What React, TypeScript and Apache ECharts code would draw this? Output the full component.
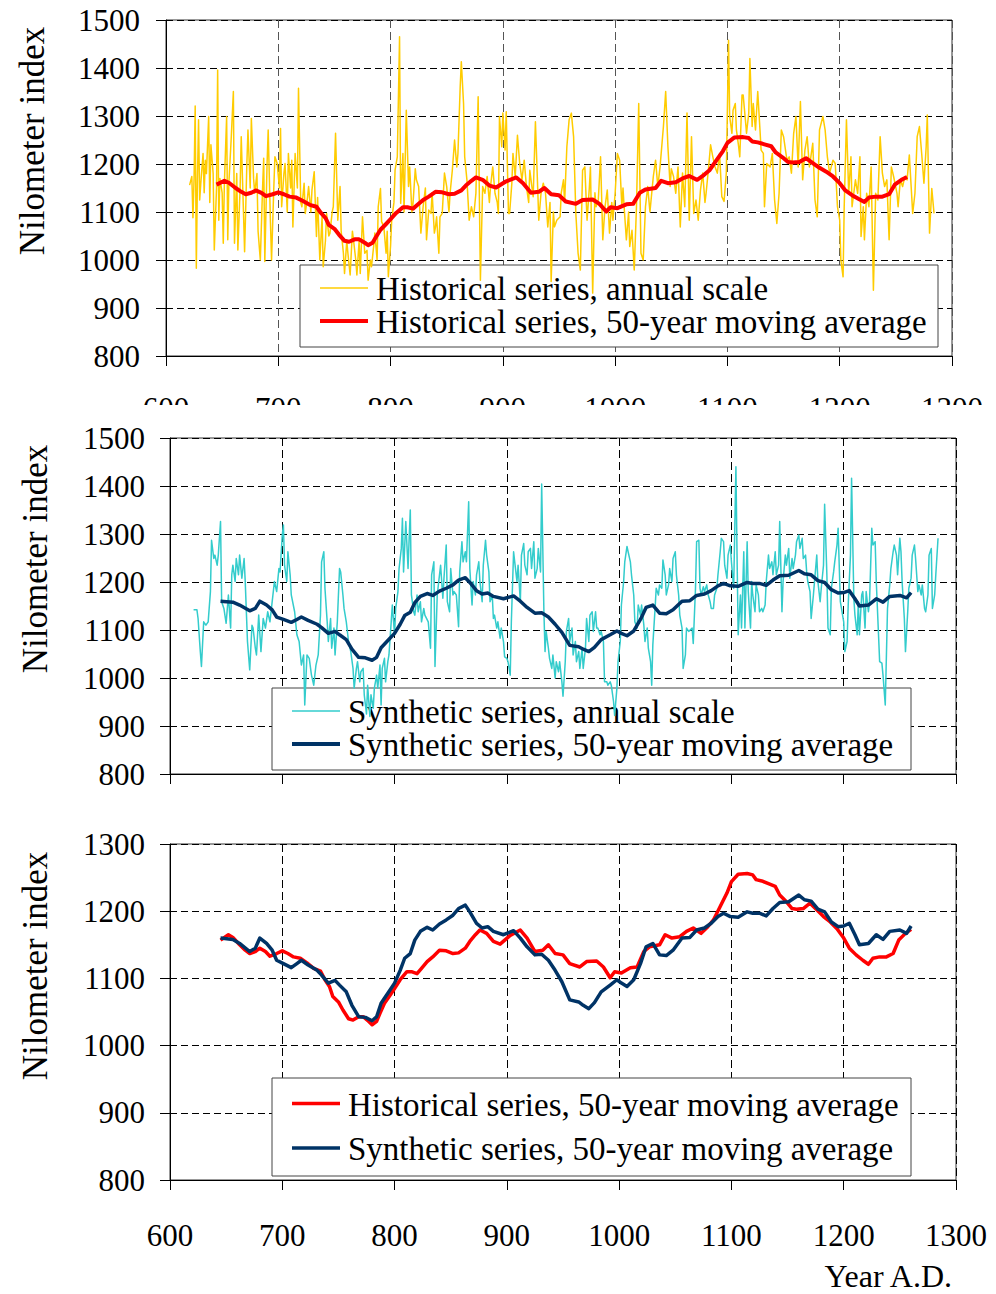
import React, { useEffect, useRef } from "react";
import * as echarts from "echarts";

// Roda nilometer index, historical record and synthetic reconstruction.
// Annual values are [year, index] pairs; moving averages are 50-year windows.

const historicalAnnual: [number, number][] = [
  [621, 1156], [623, 1174], [624, 1088], [625, 1170], [626, 1321], [627, 983], [628, 1170], [629, 1292],
  [630, 1125], [631, 1160], [633, 1222], [634, 1140], [635, 1208], [636, 1180], [638, 1299], [639, 1120],
  [640, 1240], [642, 1180], [643, 1021], [645, 1150], [646, 1396], [647, 1083], [648, 1170], [650, 1140],
  [651, 1035], [652, 1160], [654, 1299], [655, 1042], [656, 1160], [658, 1250], [660, 1351], [661, 1035],
  [663, 1180], [664, 1021], [666, 1150], [667, 1257], [669, 1100], [670, 1017], [672, 1200], [673, 1271],
  [675, 1150], [676, 1295], [678, 1170], [679, 1139], [681, 1180], [682, 1060], [684, 1000], [686, 1150],
  [687, 1212], [688, 997], [690, 1200], [691, 1271], [693, 1080], [694, 1000], [696, 1150], [697, 1215],
  [699, 1201], [701, 1150], [702, 1274], [703, 1111], [705, 1180], [706, 1201], [708, 1100], [709, 1222],
  [711, 1150], [712, 1208], [713, 1069], [715, 1222], [717, 1150], [718, 1358], [720, 1120], [721, 1111],
  [723, 1160], [724, 1097], [726, 1130], [727, 1153], [729, 1100], [730, 1146], [732, 1184], [734, 1049],
  [735, 1130], [737, 1000], [739, 1090], [740, 986], [742, 1040], [743, 1097], [745, 1050], [746, 1056],
  [748, 1100], [749, 1111], [751, 1264], [753, 1083], [755, 1153], [756, 1060], [758, 1014], [759, 972],
  [761, 1040], [762, 1014], [764, 969], [766, 1060], [767, 1042], [769, 1000], [770, 969], [772, 1040],
  [773, 972], [775, 1090], [777, 1014], [779, 1020], [780, 958], [782, 1000], [783, 986], [785, 1030],
  [786, 1056], [788, 1000], [789, 1111], [791, 1149], [792, 1080], [794, 1069], [796, 1014], [797, 1060],
  [798, 965], [800, 1030], [801, 1083], [803, 1120], [804, 1187], [806, 1215], [808, 1465], [809, 1118],
  [811, 1222], [812, 1100], [814, 1312], [816, 1153], [817, 1194], [819, 1100], [820, 1118], [822, 1190],
  [823, 1167], [825, 1153], [827, 1056], [829, 1111], [831, 1150], [832, 1042], [834, 1104], [836, 1097],
  [837, 1140], [839, 1056], [840, 1069], [841, 1090], [843, 1014], [844, 1090], [846, 1097], [848, 1181],
  [850, 1153], [852, 1100], [853, 1139], [855, 1187], [857, 1250], [859, 1194], [860, 1222], [862, 1361],
  [863, 1413], [865, 1326], [866, 1215], [868, 1167], [870, 1083], [872, 1111], [874, 1090], [876, 1139],
  [878, 1340], [880, 958], [882, 1153], [884, 1139], [886, 1174], [888, 1120], [889, 1153], [891, 1194],
  [893, 1139], [895, 1120], [896, 1097], [897, 1299], [899, 1236], [900, 1306], [902, 1229], [903, 1309],
  [905, 1097], [906, 1097], [908, 1160], [909, 1222], [911, 1174], [913, 1260], [915, 1201], [917, 1167],
  [919, 1208], [921, 1153], [923, 1120], [924, 1187], [926, 1150], [927, 1132], [929, 1288], [932, 1083],
  [934, 1139], [936, 1160], [938, 1139], [940, 1069], [942, 1120], [943, 955], [945, 1100], [946, 1069],
  [948, 1083], [951, 1090], [952, 1140], [954, 1167], [955, 1120], [957, 1236], [959, 1292], [961, 1306],
  [963, 1257], [965, 1097], [967, 1014], [969, 979], [971, 1187], [973, 1194], [975, 1083], [977, 1150],
  [978, 1194], [980, 931], [982, 1140], [983, 1111], [985, 1125], [987, 1215], [989, 1042], [991, 1111],
  [993, 1146], [995, 1056], [997, 1120], [998, 1083], [1000, 1139], [1002, 1222], [1004, 1208], [1006, 1111],
  [1007, 1150], [1008, 1111], [1010, 1042], [1012, 1100], [1013, 1028], [1015, 1062], [1017, 979], [1019, 1111],
  [1021, 1326], [1023, 1014], [1025, 1000], [1027, 1111], [1029, 1153], [1031, 1100], [1032, 1125], [1034, 1174],
  [1036, 1208], [1038, 1153], [1040, 1194], [1043, 1278], [1045, 1351], [1047, 1236], [1049, 1153], [1050, 1190],
  [1052, 1174], [1054, 1139], [1056, 1194], [1058, 1069], [1060, 1181], [1062, 1111], [1064, 1306], [1066, 1083],
  [1068, 1257], [1070, 1097], [1072, 1125], [1074, 1083], [1076, 1146], [1078, 1181], [1080, 1120], [1081, 1139],
  [1083, 1187], [1085, 1240], [1087, 1215], [1089, 1194], [1091, 1181], [1093, 1222], [1095, 1132], [1097, 1122],
  [1099, 1181], [1101, 1458], [1102, 1299], [1104, 1264], [1105, 1312], [1107, 1326], [1108, 1271], [1110, 1236],
  [1111, 1215], [1113, 1344], [1114, 1344], [1116, 1292], [1117, 1264], [1119, 1306], [1120, 1420], [1122, 1278],
  [1123, 1326], [1125, 1271], [1126, 1312], [1127, 1351], [1129, 1271], [1130, 1229], [1132, 1222], [1133, 1111],
  [1135, 1201], [1138, 1194], [1140, 1222], [1142, 1125], [1144, 1076], [1146, 1139], [1148, 1271], [1150, 1257],
  [1153, 1208], [1155, 1215], [1157, 1181], [1159, 1264], [1161, 1299], [1163, 1194], [1165, 1330], [1167, 1167],
  [1169, 1229], [1171, 1257], [1173, 1194], [1176, 1243], [1178, 1125], [1180, 1090], [1182, 1271], [1185, 1299],
  [1187, 1271], [1189, 1215], [1191, 1181], [1194, 1208], [1196, 1201], [1198, 1111], [1200, 1083], [1201, 1000],
  [1203, 965], [1204, 1111], [1206, 1292], [1208, 1139], [1210, 1215], [1211, 1111], [1214, 1167], [1216, 1139],
  [1218, 1215], [1219, 1049], [1221, 1111], [1222, 1042], [1224, 1139], [1226, 1111], [1228, 1194], [1230, 937],
  [1232, 1139], [1234, 1125], [1236, 1257], [1238, 1181], [1240, 1153], [1242, 1167], [1244, 1042], [1246, 1194],
  [1248, 1174], [1251, 1139], [1252, 1111], [1254, 1167], [1256, 1153], [1258, 1174], [1260, 1167], [1262, 1219],
  [1265, 1097], [1267, 1139], [1269, 1257], [1271, 1278], [1273, 1222], [1275, 1160], [1277, 1236], [1278, 1302],
  [1280, 1056], [1282, 1149], [1284, 1097],
];

const historicalMovingAvg: [number, number][] = [
  [645, 1157], [652, 1165], [656, 1161], [662, 1150], [667, 1142], [671, 1137], [676, 1140], [680, 1145],
  [685, 1140], [689, 1133], [695, 1137], [700, 1141], [705, 1137], [710, 1132], [716, 1130], [722, 1123],
  [728, 1115], [734, 1111], [738, 1098], [742, 1088], [745, 1073], [750, 1065], [754, 1053], [759, 1040],
  [763, 1038], [768, 1043], [772, 1043], [777, 1036], [780, 1031], [784, 1036], [787, 1048], [791, 1063],
  [796, 1075], [800, 1085], [805, 1098], [811, 1110], [815, 1110], [820, 1107], [824, 1115], [829, 1125],
  [834, 1132], [840, 1142], [846, 1141], [852, 1137], [857, 1138], [863, 1145], [867, 1155], [872, 1165],
  [876, 1172], [882, 1167], [888, 1155], [894, 1151], [903, 1164], [912, 1172], [918, 1160], [925, 1140],
  [932, 1142], [937, 1150], [943, 1137], [950, 1135], [956, 1122], [965, 1117], [971, 1125], [980, 1126],
  [986, 1117], [992, 1101], [996, 1110], [1002, 1108], [1010, 1116], [1016, 1117], [1022, 1140], [1027, 1147],
  [1036, 1150], [1041, 1165], [1047, 1160], [1054, 1162], [1060, 1170], [1066, 1175], [1073, 1167], [1079, 1177],
  [1084, 1187], [1090, 1207], [1096, 1227], [1100, 1244], [1106, 1255], [1114, 1256], [1119, 1254], [1122, 1247],
  [1127, 1245], [1133, 1241], [1139, 1237], [1143, 1224], [1149, 1214], [1154, 1204], [1158, 1203], [1164, 1204],
  [1170, 1212], [1176, 1202], [1182, 1192], [1188, 1184], [1194, 1174], [1200, 1160], [1205, 1145], [1211, 1135],
  [1217, 1127], [1222, 1121], [1226, 1130], [1232, 1132], [1238, 1132], [1244, 1137], [1249, 1157], [1255, 1167],
  [1260, 1173],
];

const syntheticAnnual: [number, number][] = [
  [621, 1142], [624, 1142], [625, 1124], [627, 1055], [628, 1024], [630, 1117], [632, 1110], [634, 1117],
  [636, 1180], [637, 1287], [639, 1249], [640, 1256], [642, 1235], [643, 1256], [645, 1326], [646, 1159],
  [648, 1145], [650, 1114], [652, 1173], [654, 1104], [655, 1215], [656, 1235], [658, 1201], [659, 1249],
  [661, 1215], [662, 1256], [664, 1208], [666, 1249], [667, 1201], [669, 1076], [671, 1017], [673, 1110],
  [674, 1104], [676, 1062], [677, 1048], [679, 1131], [681, 1055], [683, 1124], [685, 1104], [687, 1138],
  [689, 1117], [691, 1159], [693, 1201], [695, 1180], [697, 1228], [698, 1221], [700, 1298], [701, 1319],
  [702, 1235], [704, 1201], [705, 1263], [707, 1215], [708, 1173], [711, 1138], [713, 1090], [715, 1076],
  [717, 1027], [719, 1048], [720, 944], [722, 1048], [724, 1041], [726, 1006], [728, 985], [730, 1027],
  [732, 1048], [734, 1131], [735, 1242], [737, 1263], [738, 1187], [740, 1117], [741, 1076], [743, 1124],
  [744, 1062], [746, 1104], [747, 1048], [749, 1117], [751, 1228], [752, 1221], [754, 1173], [755, 1145],
  [757, 1117], [759, 1076], [761, 1055], [763, 1020], [764, 979], [766, 1020], [767, 1034], [769, 992],
  [770, 1013], [772, 1020], [773, 965], [775, 925], [776, 985], [778, 920], [779, 965], [781, 937],
  [782, 979], [784, 1006], [785, 979], [787, 1027], [788, 944], [789, 1020], [791, 1041], [792, 992],
  [794, 1034], [795, 1048], [797, 1117], [798, 1152], [800, 1090], [801, 1145], [803, 1180], [804, 1228],
  [806, 1270], [807, 1333], [808, 1221], [810, 1326], [812, 1228], [813, 1291], [814, 1350], [815, 1173],
  [817, 1138], [818, 1131], [820, 1173], [821, 1138], [823, 1159], [824, 1117], [826, 1145], [827, 1131],
  [830, 1117], [832, 1062], [833, 1215], [835, 1242], [836, 1024], [838, 1173], [839, 1194], [841, 1235],
  [843, 1166], [844, 1208], [846, 1277], [847, 1159], [849, 1138], [850, 1228], [852, 1173], [853, 1180],
  [855, 1173], [857, 1107], [858, 1221], [860, 1284], [861, 1242], [863, 1263], [864, 1242], [866, 1367],
  [867, 1228], [869, 1152], [870, 1201], [872, 1173], [873, 1215], [875, 1242], [876, 1201], [878, 1159],
  [879, 1235], [881, 1287], [882, 1256], [884, 1221], [885, 1159], [887, 1173], [888, 1124], [889, 1131],
  [891, 1104], [892, 1117], [894, 1083], [895, 1104], [897, 1076], [898, 1044], [900, 1041], [901, 1034],
  [903, 1006], [904, 1117], [906, 1263], [907, 1242], [909, 1201], [910, 1235], [912, 1159], [913, 1256],
  [915, 1280], [916, 1235], [918, 1215], [919, 1263], [921, 1270], [922, 1228], [924, 1284], [925, 1208],
  [927, 1228], [928, 1270], [930, 1221], [931, 1404], [933, 1138], [934, 1055], [935, 1097], [937, 1062],
  [938, 1041], [940, 1020], [941, 1048], [943, 1000], [944, 1034], [946, 1013], [947, 1034], [949, 992],
  [950, 962], [952, 1034], [953, 1097], [955, 1124], [956, 1076], [958, 1104], [959, 1048], [961, 1076],
  [962, 1034], [964, 1055], [965, 1020], [967, 1062], [968, 1020], [970, 1062], [971, 1124], [973, 1076],
  [974, 1131], [976, 1138], [977, 1097], [979, 1138], [980, 1104], [981, 1104], [983, 1090], [984, 1097],
  [986, 1076], [987, 992], [989, 992], [990, 985], [992, 992], [993, 985], [995, 951], [996, 922],
  [998, 979], [999, 1034], [1001, 1076], [1002, 1152], [1004, 1201], [1005, 1242], [1007, 1274], [1008, 1263],
  [1010, 1242], [1011, 1215], [1013, 1173], [1014, 1117], [1016, 1104], [1017, 1152], [1019, 1131], [1020, 1152],
  [1022, 1110], [1023, 1076], [1025, 1104], [1026, 1062], [1028, 1034], [1029, 985], [1030, 1069], [1032, 1145],
  [1033, 1187], [1035, 1173], [1036, 1194], [1038, 1187], [1039, 1246], [1041, 1215], [1042, 1173], [1044, 1194],
  [1045, 1228], [1047, 1201], [1048, 1249], [1050, 1263], [1051, 1215], [1053, 1173], [1054, 1131], [1056, 1104],
  [1057, 1020], [1059, 1048], [1060, 1104], [1062, 1097], [1065, 1104], [1066, 1072], [1068, 1187], [1069, 1284],
  [1071, 1287], [1072, 1187], [1073, 1173], [1075, 1190], [1076, 1180], [1078, 1194], [1079, 1176], [1081, 1159],
  [1082, 1145], [1084, 1145], [1085, 1173], [1087, 1187], [1088, 1215], [1090, 1263], [1091, 1291], [1093, 1284],
  [1094, 1235], [1096, 1208], [1097, 1256], [1099, 1277], [1100, 1242], [1102, 1187], [1104, 1440], [1105, 1256],
  [1106, 1090], [1108, 1173], [1109, 1104], [1111, 1263], [1112, 1104], [1114, 1284], [1115, 1180], [1117, 1104],
  [1118, 1201], [1119, 1173], [1121, 1138], [1122, 1194], [1124, 1173], [1125, 1138], [1127, 1145], [1128, 1138],
  [1130, 1152], [1131, 1201], [1133, 1256], [1134, 1228], [1136, 1242], [1137, 1215], [1139, 1263], [1140, 1215],
  [1142, 1235], [1143, 1326], [1145, 1138], [1146, 1201], [1148, 1256], [1149, 1235], [1151, 1270], [1152, 1208],
  [1154, 1249], [1155, 1228], [1157, 1256], [1158, 1284], [1160, 1298], [1161, 1270], [1163, 1291], [1164, 1249],
  [1166, 1256], [1167, 1221], [1168, 1201], [1170, 1180], [1171, 1124], [1173, 1173], [1174, 1201], [1176, 1256],
  [1177, 1201], [1179, 1159], [1180, 1187], [1182, 1235], [1183, 1362], [1185, 1215], [1186, 1104], [1188, 1090],
  [1189, 1187], [1191, 1221], [1192, 1242], [1194, 1277], [1195, 1312], [1197, 1159], [1198, 1145], [1200, 1117],
  [1201, 1055], [1203, 1076], [1204, 1152], [1206, 1256], [1207, 1416], [1209, 1166], [1210, 1131], [1212, 1090],
  [1213, 1159], [1214, 1090], [1216, 1173], [1217, 1180], [1219, 1104], [1220, 1180], [1222, 1138], [1223, 1159],
  [1225, 1312], [1226, 1277], [1228, 1284], [1229, 1201], [1231, 1090], [1232, 1034], [1234, 1031], [1235, 1006],
  [1237, 944], [1239, 1145], [1241, 1194], [1242, 1228], [1244, 1263], [1245, 1277], [1247, 1256], [1248, 1215],
  [1250, 1291], [1251, 1263], [1252, 1201], [1254, 1124], [1255, 1055], [1257, 1138], [1258, 1187], [1260, 1208],
  [1261, 1256], [1263, 1277], [1264, 1249], [1266, 1180], [1267, 1194], [1269, 1173], [1270, 1194], [1272, 1145],
  [1273, 1138], [1275, 1173], [1276, 1256], [1278, 1270], [1279, 1145], [1281, 1173], [1282, 1215], [1284, 1291],
];

const syntheticMovingAvg: [number, number][] = [
  [645, 1160], [656, 1158], [662, 1152], [671, 1140], [676, 1145], [680, 1160], [686, 1152], [691, 1142],
  [695, 1127], [701, 1122], [708, 1116], [713, 1122], [717, 1127], [723, 1120], [731, 1112], [735, 1105],
  [741, 1093], [747, 1097], [751, 1090], [757, 1080], [762, 1060], [768, 1043], [774, 1042], [780, 1037],
  [784, 1043], [788, 1063], [794, 1078], [800, 1093], [805, 1112], [809, 1130], [814, 1137], [818, 1157],
  [823, 1170], [829, 1176], [834, 1172], [840, 1181], [846, 1187], [852, 1194], [857, 1204], [863, 1209],
  [867, 1199], [873, 1182], [878, 1175], [883, 1177], [888, 1170], [897, 1165], [906, 1171], [912, 1160],
  [918, 1147], [925, 1135], [931, 1136], [937, 1127], [943, 1112], [949, 1095], [956, 1068], [964, 1065],
  [968, 1060], [973, 1055], [978, 1064], [984, 1080], [992, 1090], [998, 1098], [1002, 1093], [1007, 1088],
  [1013, 1098], [1019, 1122], [1024, 1147], [1030, 1152], [1036, 1135], [1042, 1134], [1048, 1142], [1056, 1160],
  [1063, 1161], [1069, 1172], [1076, 1175], [1082, 1182], [1088, 1192], [1093, 1197], [1099, 1192], [1106, 1191],
  [1114, 1199], [1119, 1197], [1125, 1197], [1131, 1193], [1137, 1204], [1143, 1213], [1151, 1214], [1160, 1224],
  [1165, 1217], [1171, 1215], [1177, 1203], [1183, 1199], [1189, 1184], [1195, 1177], [1200, 1178], [1205, 1182],
  [1210, 1165], [1214, 1150], [1222, 1152], [1229, 1165], [1235, 1158], [1241, 1170], [1250, 1172], [1256, 1167],
  [1260, 1178],
];

const NAME_HIST_ANNUAL = "Historical series, annual scale";
const NAME_HIST_MA = "Historical series, 50-year moving average";
const NAME_SYN_ANNUAL = "Synthetic series, annual scale";
const NAME_SYN_MA = "Synthetic series, 50-year moving average";
const Y_TITLE = "Nilometer index";
const X_TITLE = "Year A.D.";

const FONT = "'Liberation Serif', 'Times New Roman', Times, serif";
const YELLOW = "#ffcc00";
const RED = "#ff0000";
const CYAN = "#33cccc";
const NAVY = "#003366";

type Panel = {
  left: number;
  top: number;
  width: number;
  height: number;
  yMin: number;
  yMax: number;
  vGridColor: string;
  showXLabels: boolean;
  xLabelMargin: number;
  yLabelMargin: number;
};

const panels: Panel[] = [
  { left: 166, top: 20, width: 786, height: 336, yMin: 800, yMax: 1500, vGridColor: "#555", showXLabels: true, xLabelMargin: 37, yLabelMargin: 26 },
  { left: 170, top: 438, width: 786, height: 336, yMin: 800, yMax: 1500, vGridColor: "#000", showXLabels: false, xLabelMargin: 37, yLabelMargin: 25 },
  { left: 170, top: 844, width: 786, height: 336, yMin: 800, yMax: 1300, vGridColor: "#000", showXLabels: true, xLabelMargin: 40, yLabelMargin: 25 },
];

type LegendRow = { name: string; color: string; width: number; y: number };
type LegendBox = { x: number; y: number; w: number; h: number; lineX: number; textX: number; rows: LegendRow[] };

const legends: LegendBox[] = [
  {
    x: 300, y: 265, w: 638, h: 82, lineX: 320, textX: 376,
    rows: [
      { name: NAME_HIST_ANNUAL, color: YELLOW, width: 1.5, y: 289 },
      { name: NAME_HIST_MA, color: RED, width: 4, y: 322 },
    ],
  },
  {
    x: 272, y: 688, w: 639, h: 82, lineX: 292, textX: 348,
    rows: [
      { name: NAME_SYN_ANNUAL, color: CYAN, width: 1.5, y: 712 },
      { name: NAME_SYN_MA, color: NAVY, width: 4, y: 745 },
    ],
  },
  {
    x: 272, y: 1078, w: 639, h: 98, lineX: 292, textX: 348,
    rows: [
      { name: NAME_HIST_MA, color: RED, width: 3.5, y: 1104.5 },
      { name: NAME_SYN_MA, color: NAVY, width: 3.5, y: 1149 },
    ],
  },
];

const yTitlePos = [
  { x: 32, y: 141 },
  { x: 35, y: 559 },
  { x: 35, y: 966 },
];

const plainNumber = (v: number) => String(v);

function buildOption(): echarts.EChartsCoreOption {
  const grid = panels.map((p) => ({
    left: p.left,
    top: p.top,
    width: p.width,
    height: p.height,
    show: true,
    borderColor: "#333",
    borderWidth: 1,
    backgroundColor: "transparent",
    containLabel: false,
    outerBoundsMode: "none",
  }));

  const labelStyle = { fontSize: 31, fontFamily: FONT, color: "#000", formatter: plainNumber };

  const xAxis = panels.map((p, i) => ({
    type: "value",
    gridIndex: i,
    min: 600,
    max: 1300,
    interval: 100,
    axisLine: { show: true, onZero: false, lineStyle: { color: "#000", width: 1 } },
    axisTick: { show: true, inside: false, length: 10, lineStyle: { color: "#000", width: 1 } },
    axisLabel: { show: p.showXLabels, margin: p.xLabelMargin, showMinLabel: true, showMaxLabel: true, hideOverlap: false, ...labelStyle },
    splitLine: { show: true, lineStyle: { color: p.vGridColor, width: 1, type: [8, 4] } },
  }));

  const yAxis = panels.map((p, i) => ({
    type: "value",
    gridIndex: i,
    min: p.yMin,
    max: p.yMax,
    interval: 100,
    axisLine: { show: true, onZero: false, lineStyle: { color: "#000", width: 1 } },
    axisTick: { show: true, inside: false, length: 10, lineStyle: { color: "#000", width: 1 } },
    axisLabel: { margin: p.yLabelMargin, showMinLabel: true, showMaxLabel: true, ...labelStyle },
    splitLine: { show: true, lineStyle: { color: "#000", width: 1, type: [7, 4] } },
  }));

  const line = (name: string, data: [number, number][], idx: number, color: string, width: number, z: number) => ({
    type: "line",
    name,
    xAxisIndex: idx,
    yAxisIndex: idx,
    data,
    symbol: "none",
    showSymbol: false,
    silent: true,
    z,
    lineStyle: { color, width, join: "round" },
    itemStyle: { color },
  });

  const series = [
    line(NAME_HIST_ANNUAL, historicalAnnual, 0, YELLOW, 1.5, 2),
    line(NAME_HIST_MA, historicalMovingAvg, 0, RED, 4, 3),
    line(NAME_SYN_ANNUAL, syntheticAnnual, 1, CYAN, 1.5, 2),
    line(NAME_SYN_MA, syntheticMovingAvg, 1, NAVY, 3.5, 3),
    line(NAME_HIST_MA, historicalMovingAvg, 2, RED, 3.5, 2),
    line(NAME_SYN_MA, syntheticMovingAvg, 2, NAVY, 3.5, 3),
  ];

  const graphic: any[] = [];

  legends.forEach((lg) => {
    graphic.push({
      type: "rect",
      z: 1,
      silent: true,
      shape: { x: lg.x, y: lg.y, width: lg.w, height: lg.h },
      style: { fill: "#fff", stroke: "#444", lineWidth: 1 },
    });
    lg.rows.forEach((r) => {
      graphic.push({
        type: "line",
        z: 1,
        silent: true,
        shape: { x1: lg.lineX, y1: r.y - 1, x2: lg.lineX + 48, y2: r.y - 1 },
        style: { stroke: r.color, lineWidth: r.width },
      });
      graphic.push({
        type: "text",
        z: 1,
        silent: true,
        x: lg.textX,
        y: r.y,
        style: {
          text: r.name,
          fontSize: 33,
          fontFamily: FONT,
          fill: "#000",
          align: "left",
          verticalAlign: "middle",
        },
      });
    });
  });

  yTitlePos.forEach((p) => {
    graphic.push({
      type: "text",
      z: 1,
      silent: true,
      x: p.x,
      y: p.y,
      rotation: Math.PI / 2,
      style: { text: Y_TITLE, fontSize: 35, fontFamily: FONT, fill: "#000", align: "center", verticalAlign: "middle" },
    });
  });

  graphic.push({
    type: "text",
    z: 1,
    silent: true,
    x: 952,
    y: 1276,
    style: {
      text: X_TITLE,
      fontSize: 32,
      fontFamily: FONT,
      fill: "#000",
      align: "right",
      verticalAlign: "middle",
    },
  });

  // The middle panel sits over the lower half of the top panel's year labels.
  graphic.push({
    type: "rect",
    z: 100,
    silent: true,
    shape: { x: 0, y: 405, width: 996, height: 19 },
    style: { fill: "#fff" },
  });

  return {
    animation: false,
    backgroundColor: "#fff",
    grid,
    xAxis,
    yAxis,
    series,
    graphic,
    tooltip: { show: false },
  };
}

export default function App() {
  const ref = useRef<HTMLDivElement>(null);

  useEffect(() => {
    if (!ref.current) return;
    const chart = echarts.init(ref.current, undefined, { renderer: "svg" });
    chart.setOption(buildOption());
    return () => chart.dispose();
  }, []);

  return (
    <div
      ref={ref}
      style={{ position: "absolute", left: 0, top: 0, width: 996, height: 1294, background: "#fff" }}
    />
  );
}
